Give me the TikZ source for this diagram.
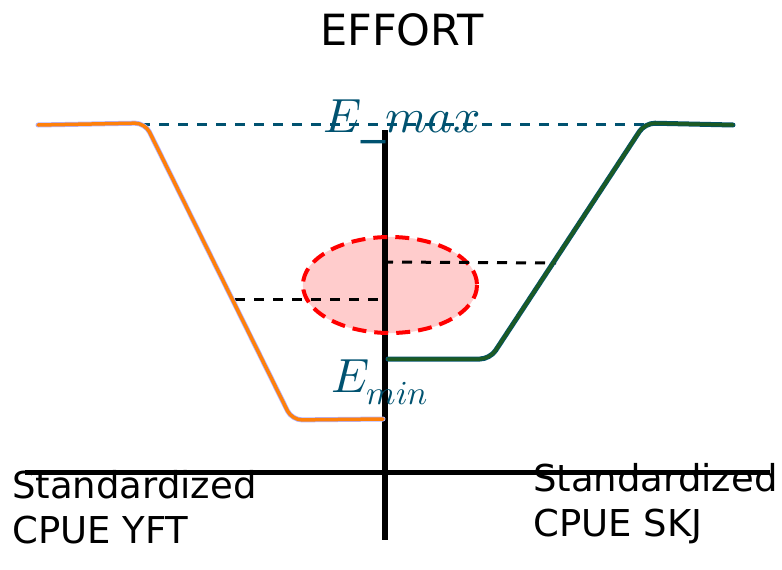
\documentclass[tikz,border=0pt]{standalone}
\usepackage{fontspec}
\usepackage{unicode-math}
\setmainfont{DejaVu Sans}
\setmathfont{Latin Modern Math}
\definecolor{efblue}{RGB}{0,82,112}
\definecolor{yftorange}{RGB}{255,128,10}
\definecolor{skjgreen}{RGB}{28,90,35}
\definecolor{ovalfill}{RGB}{255,204,204}
\tikzset{
  axisline/.style={line width=5pt},
  guide/.style={line width=3pt,dash pattern=on 10pt off 9pt},
  lbl/.style={font=\fontsize{37}{45}\selectfont,align=left,anchor=north west,inner sep=0pt}
}
\begin{document}
\begin{tikzpicture}[x=1pt,y=-1pt]
    \useasboundingbox (0,0) rectangle (782,570);
    % overlap region
    \draw[ovalfill,fill=ovalfill] (390,285) ellipse (87 and 48);
    % axes
    \draw[axisline] (25,472) -- (770,472);
    \draw[axisline,line width=6pt] (385,130) -- (385,540);
    \draw[efblue,guide] (140,124) -- (735,124);
    \draw[red,line width=4pt,dash pattern=on 14pt off 8pt] (390,285) ellipse (87 and 48);
    \draw[guide] (235,299) -- (383,299);
    \draw[guide] (383,262) -- (556,263);
    % curves
    \draw[line width=5pt,blue!30,rounded corners=10pt,line cap=round]
      (38,125) -- (145,123) -- (292,420) -- (383,419);
    \draw[line width=3.5pt,yftorange,rounded corners=10pt,line cap=round]
      (38,125) -- (145,123) -- (292,420) -- (383,419);
    \draw[line width=5pt,efblue,rounded corners=10pt,line cap=round]
      (388,359) -- (490,359) -- (645,123) -- (733,125);
    \draw[line width=3.5pt,skjgreen,rounded corners=10pt,line cap=round]
      (388,359) -- (490,359) -- (645,123) -- (733,125);
    % labels
    \node (title) at (402,30) {\fontsize{43}{46}\selectfont EFFORT};
    \node[efblue] (emax) at (402,122) {\fontsize{48}{50}\selectfont$E\_max$};
    \node[efblue] (emin) at (380,382) {\fontsize{48}{50}\selectfont$E_{min}$};
    \node[lbl] (yft) at (12,470) {Standardized\\CPUE YFT};
    \node[lbl] (skj) at (533,463) {Standardized\\CPUE SKJ};
\end{tikzpicture}
\end{document}
